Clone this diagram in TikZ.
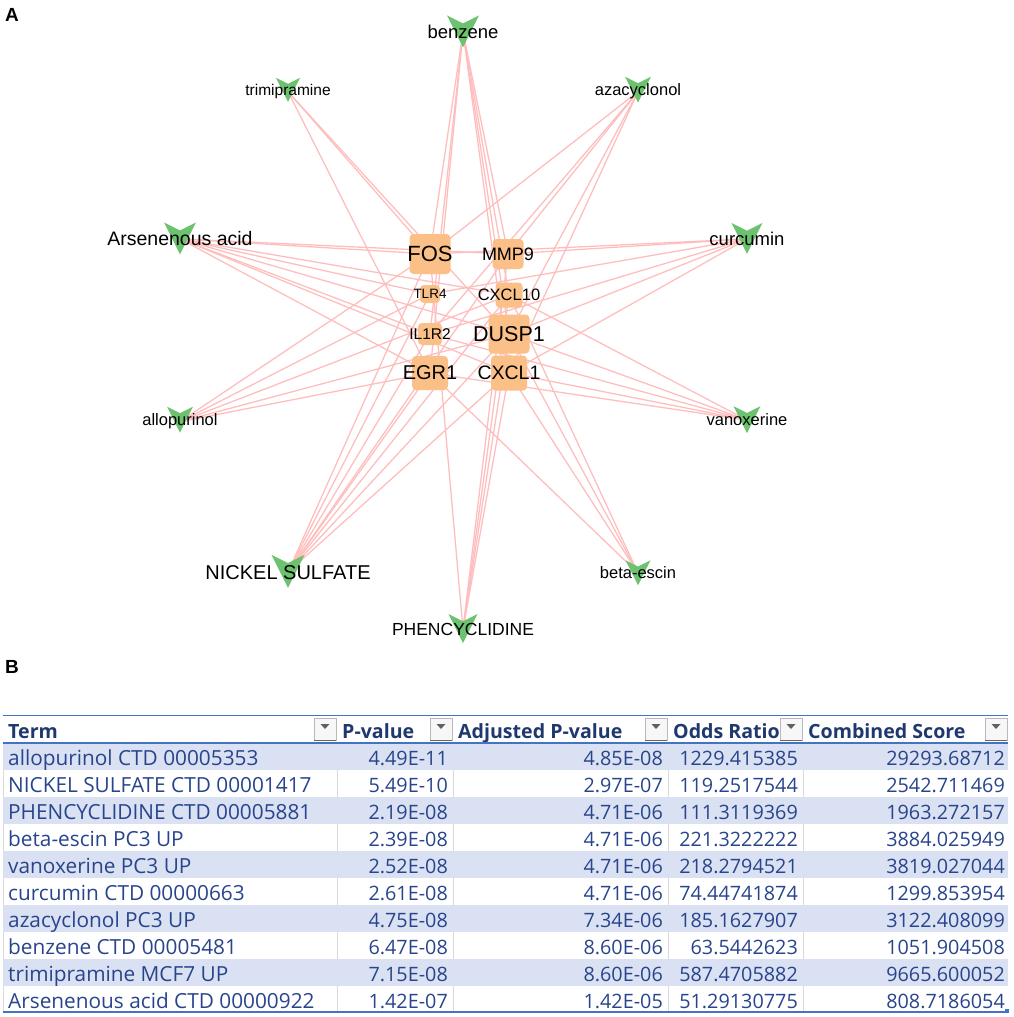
\documentclass[tikz,border=0pt]{standalone}
\usepackage{fontspec}
\setmainfont{Liberation Sans}
\newfontfamily\tabfont{Open Sans}
\usepackage{tikz}
\usetikzlibrary{positioning}
\definecolor{linkpink}{RGB}{255,190,190}
\definecolor{vgreen}{RGB}{108,194,110}
\definecolor{geneorange}{RGB}{250,192,135}
\definecolor{rowblue}{RGB}{217,225,242}
\definecolor{tabline}{RGB}{68,114,196}
\definecolor{tabtext}{RGB}{40,68,140}
\definecolor{headtext}{RGB}{31,56,110}
\pgfdeclarelayer{edges}
\pgfdeclarelayer{marks}
\pgfsetlayers{edges,marks,main}

\begin{document}
\begin{tikzpicture}[x=1pt, y=-1pt,
    gene/.style={rectangle, rounded corners=4pt, fill=geneorange, inner sep=0pt},
    drug/.style={inner sep=0pt, anchor=base},
    link/.style={draw=linkpink, line width=1.3pt},
    vmark/.style={fill=vgreen},
    panel/.style={font=\fontsize{19}{19}\selectfont\bfseries, inner sep=0pt},
    headcell/.style={font=\tabfont\fontsize{19.6}{19.6}\selectfont\bfseries, text=headtext, inner sep=0pt, anchor=base west},
    termcell/.style={font=\tabfont\fontsize{20.8}{20.8}\selectfont, text=tabtext, inner sep=0pt, anchor=base west},
    numcell/.style={font=\tabfont\fontsize{19.8}{19.8}\selectfont, text=tabtext, inner sep=0pt, anchor=base east},
    ddbtn/.style={rectangle, draw=gray!55, fill=gray!6, minimum width=22pt, minimum height=22pt, inner sep=0pt}
]
\useasboundingbox (0,0) rectangle (1013,1017);

% Panel labels
\node[panel] (lblA) at (12,15) {A};
\node[panel] (lblB) at (12,667) {B};

% Genes
\foreach \name/\x/\y/\w/\h/\fs in {FOS/430/254/41/40/22, MMP9/508/254/31/30/18,
    TLR4/430/294/20/18/13.5, CXCL10/509/295/27/25/16.5, IL1R2/430/334/24/22/15.5,
    DUSP1/509/334/41/39/21.5, EGR1/430/373/36/34/20, CXCL1/509/373/36/35/19.5}
  \node[gene, minimum width=\w pt, minimum height=\h pt,
        label={[font=\fontsize{\fs}{\fs}\selectfont]center:\name}] (\name) at (\x,\y) {};

% Drugs
\foreach \id/\x/\y/\s/\fs/\txt in {benzene/463/33/32/18.5/benzene,
    trimip/288/91/24/15.5/trimipramine, azacyc/638/91/26/16.5/azacyclonol,
    arsen/180/240/32/19.5/Arsenenous acid, curcum/747/240/31/18.5/curcumin,
    allop/180/421/26/16.5/allopurinol, vanox/747/421/27/16.5/vanoxerine,
    nickel/288/573/33/20/NICKEL SULFATE, betaes/638/574/25/16.5/beta-escin,
    phency/463/630/29/17.5/PHENCYCLIDINE}
{
  \node[drug, font=\fontsize{\fs}{\fs}\selectfont] (\id) at (\x,\y+0.3*\fs) {\txt};
  \begin{pgfonlayer}{marks}
    \fill[vmark] (\x-\s/2, \y-0.55*\s) -- (\x, \y-0.3*\s) -- (\x+\s/2, \y-0.55*\s)
      -- (\x, \y+0.45*\s) -- cycle;
  \end{pgfonlayer}
}

% Drug-gene links
\begin{pgfonlayer}{edges}
\foreach \d/\gl in {benzene/{FOS,IL1R2,EGR1,MMP9,CXCL10,DUSP1,CXCL1},
    trimip/{FOS,DUSP1,EGR1},
    azacyc/{FOS,MMP9,IL1R2,DUSP1,CXCL1},
    arsen/{FOS,MMP9,TLR4,CXCL10,IL1R2,DUSP1,EGR1,CXCL1},
    curcum/{FOS,MMP9,TLR4,IL1R2,DUSP1,CXCL1},
    allop/{FOS,TLR4,CXCL10,DUSP1,EGR1},
    vanox/{CXCL10,IL1R2,DUSP1,CXCL1,EGR1},
    nickel/{FOS,MMP9,TLR4,CXCL10,IL1R2,DUSP1,EGR1,CXCL1},
    phency/{FOS,MMP9,CXCL10,DUSP1,CXCL1},
    betaes/{EGR1,CXCL10,DUSP1,CXCL1}}
  \foreach \g in \gl
    \draw[link] (\d.center) -- (\g.center);
\end{pgfonlayer}

% Table header
\draw[tabline, line width=1pt] (3,715) -- (1008,715);
\node[headcell] (hTerm) at (8,738) {Term};
\node[headcell] (hP) at (342,738) {P-value};
\node[headcell] (hAdj) at (458,738) {Adjusted P-value};
\node[headcell] (hOdds) at (673,738) {Odds Ratio};
\node[headcell] (hComb) at (808,738) {Combined Score};
\foreach \bx in {325,441,656,791,996} {
  \node[ddbtn] (dd\bx) at (\bx,729.5) {};
  \draw[gray!80!black, line width=1pt] (\bx-11,740.5) -- (\bx+11,740.5);
  \fill[gray!75!black] (\bx-4.5,724) -- (\bx+4.5,724) -- (\bx,729) -- cycle;
}

% Table rows
\foreach \i/\term/\pv/\adj/\odds/\comb in {
    1/allopurinol CTD 00005353/4.49E-11/4.85E-08/1229.415385/29293.68712,
    2/NICKEL SULFATE CTD 00001417/5.49E-10/2.97E-07/119.2517544/2542.711469,
    3/PHENCYCLIDINE CTD 00005881/2.19E-08/4.71E-06/111.3119369/1963.272157,
    4/beta-escin PC3 UP/2.39E-08/4.71E-06/221.3222222/3884.025949,
    5/vanoxerine PC3 UP/2.52E-08/4.71E-06/218.2794521/3819.027044,
    6/curcumin CTD 00000663/2.61E-08/4.71E-06/74.44741874/1299.853954,
    7/azacyclonol PC3 UP/4.75E-08/7.34E-06/185.1627907/3122.408099,
    8/benzene CTD 00005481/6.47E-08/8.60E-06/63.5442623/1051.904508,
    9/trimipramine MCF7 UP/7.15E-08/8.60E-06/587.4705882/9665.600052,
    10/Arsenenous acid CTD 00000922/1.42E-07/1.42E-05/51.29130775/808.7186054}
{
  \pgfmathsetmacro\rt{743+27*(\i-1)}
  \ifodd\i
    \fill[rowblue] (3,\rt) rectangle (1008,\rt+27);
  \else
    \foreach \cx in {3,337,453,668,803}
      \draw[gray!30, line width=0.8pt] (\cx,\rt) -- (\cx,\rt+27);
  \fi
  \node[termcell] (t\i) at (8,\rt+22) {\term};
  \node[numcell] (p\i) at (448,\rt+22) {\pv};
  \node[numcell] (a\i) at (663,\rt+22) {\adj};
  \node[numcell] (o\i) at (798,\rt+22) {\odds};
  \node[numcell] (c\i) at (1005,\rt+22) {\comb};
}
\draw[tabline, line width=1.6pt] (3,743) -- (1008,743);
\draw[tabline, line width=1.6pt] (3,1012) -- (1008,1012);
\fill[tabline] (1005,1009) rectangle (1009,1013);

\end{tikzpicture}
\end{document}
